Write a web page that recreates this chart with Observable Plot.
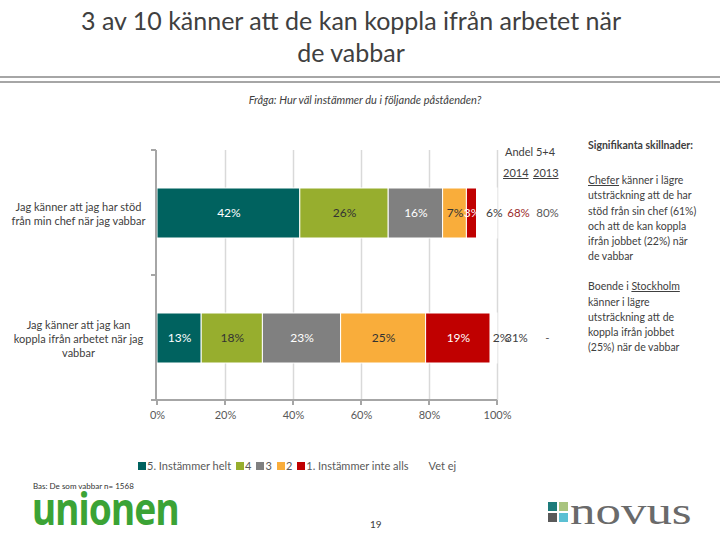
<!DOCTYPE html>
<html>
<head>
<meta charset="utf-8">
<script src="https://cdn.jsdelivr.net/npm/d3@7"></script>
<script src="https://cdn.jsdelivr.net/npm/@observablehq/plot@0.6"></script>
<style>
  html, body { margin: 0; padding: 0; background: #fff; }
  #page { position: relative; width: 720px; height: 540px; overflow: hidden; font-family: Lato, "Open Sans", sans-serif; color: #404040; }
  #chart { position: absolute; left: 0; top: 0; }
  .abs { position: absolute; }
  #title { left: 0; top: 4px; width: 702px; text-align: center; font-size: 25px; line-height: 32px; color: #404040; }
  .rule { left: 0; width: 720px; height: 2px; background: #a6a6a6; }
  #subtitle { left: 0; width: 730px; top: 93px; text-align: center; font-size: 11px; font-style: italic; color: #404040; }
  #andel { left: 490px; width: 80px; top: 145px; text-align: center; font-size: 11px; color: #404040; }
  .yr { top: 166px; font-size: 11px; text-decoration: underline; color: #404040; }
  #notes { left: 588px; top: 138px; width: 128px; font-size: 10.5px; line-height: 15.2px; color: #404040; }
  #notes u { text-decoration: underline; }
  #legend { left: 138px; top: 459px; font-size: 11px; color: #595959; display: flex; gap: 5px; align-items: center; white-space: nowrap; }
  #legend span.sw { display: inline-block; width: 8px; height: 8px; margin-right: 1px; vertical-align: middle; }
  #legend .item { display: inline-flex; align-items: center; }
  #bas { left: 33px; top: 481px; font-size: 8px; line-height: 10px; color: #333; }
  #unionen { left: 32px; top: 497px; height: 24px; line-height: 24px; font-family: "Noto Sans", sans-serif; font-weight: 700; font-size: 34px; color: #3ba335; transform-origin: 0 16px; transform: scale(1.09, 1.3); letter-spacing: -0.8px; white-space: nowrap; }
  #page-no { left: 370px; top: 518px; font-size: 10px; color: #404040; }
  #novus-sq { left: 548px; top: 502px; width: 20px; height: 20px; }
  #novus-sq div { position: absolute; width: 9px; height: 9px; }
  #novus { left: 570px; top: 492px; font-family: "Liberation Serif", serif; font-size: 38px; color: #6a6a6a; transform-origin: left top; transform: scaleX(1.34); line-height: 1; white-space: nowrap; }
</style>
</head>
<body>
<div id="page">
  <div id="chart"></div>
  <div id="title" class="abs">3 av 10 känner att de kan koppla ifrån arbetet när<br>de vabbar</div>
  <div class="abs rule" style="top:76px"></div>
  <div class="abs rule" style="top:81px"></div>
  <div id="subtitle" class="abs">Fråga: Hur väl instämmer du i följande påståenden?</div>
  <div id="andel" class="abs">Andel 5+4</div>
  <div id="y2014" class="abs yr" style="left:503px">2014</div>
  <div id="y2013" class="abs yr" style="left:533px">2013</div>
  <div id="notes" class="abs">
    <div style="font-weight:700; margin-bottom:20px;">Signifikanta skillnader:</div>
    <div><u>Chefer</u> känner i lägre<br>utsträckning att de har<br>stöd från sin chef (61%)<br>och att de kan koppla<br>ifrån jobbet (22%) när<br>de vabbar</div>
    <div style="margin-top:15px;">Boende i <u>Stockholm</u><br>känner i lägre<br>utsträckning att de<br>koppla ifrån jobbet<br>(25%) när de vabbar</div>
  </div>
  <div id="legend" class="abs"></div>
  <div id="bas" class="abs">Bas: De som vabbar n= 1568</div>
  <div id="unionen" class="abs">unionen</div>
  <div id="page-no" class="abs">19</div>
  <div id="novus-sq" class="abs">
    <div style="left:0;top:0;background:#1d7b7b"></div>
    <div style="left:11px;top:0;background:#a9c47f"></div>
    <div style="left:0;top:11px;background:#5a5a5a"></div>
    <div style="left:11px;top:11px;background:#5bc0d3"></div>
  </div>
  <div id="novus" class="abs">novus</div>
</div>
<script>
// ---- data ----
const categories = [
  "Jag känner att jag har stöd\nfrån min chef när jag vabbar",
  "Jag känner att jag kan\nkoppla ifrån arbetet när jag\nvabbar"
];
const responses = ["5. Instämmer helt", "4", "3", "2", "1. Instämmer inte alls", "Vet ej"];
const stodValues = [42, 26, 16, 7, 3, 6];
const kopplaValues = [13, 18, 23, 25, 19, 2];
const andel2014 = ["68%", "31%"];
const andel2013 = ["80%", "-"];
const significant2014 = [true, false];
const xTicks = [0, 20, 40, 60, 80, 100];

// ---- styling ----
const colors = ["#00625f", "#97ae2e", "#808080", "#f9ad3b", "#c00000", "#ffffff"];
const whiteLabel = new Set(["5. Instämmer helt", "3", "1. Instämmer inte alls"]);
const darkLabel = new Set(["4", "2"]);

const seriesValues = [stodValues, kopplaValues];
const data = categories.flatMap((c, i) => responses.map((r, j) => ({cat: c, resp: r, value: seriesValues[i][j]})));
const rows = categories.map((c, i) => ({cat: c, a14: andel2014[i], a13: andel2013[i], sig: significant2014[i]}));

const stackText = (pred, fill, dx = 0) => Plot.text(data, Plot.stackX({
  x: "value", y: "cat",
  text: d => pred(d) ? d.value + "%" : "",
  fill, dx, fontSize: 12
}));

const axisLines = (index, scales, values, dims) => {
  const g = d3.create("svg:g").attr("stroke", "#a6a6a6").attr("fill", "none");
  const x0 = dims.marginLeft - 1, top = dims.marginTop, bottom = dims.height - dims.marginBottom;
  const right = dims.width - dims.marginRight;
  g.append("line").attr("x1", x0).attr("x2", x0).attr("y1", top).attr("y2", bottom + 1).attr("stroke-width", 2);
  g.append("line").attr("x1", x0).attr("x2", right).attr("y1", bottom).attr("y2", bottom).attr("stroke-width", 2);
  for (const y of [top, (top + bottom) / 2, bottom]) {
    g.append("line").attr("x1", x0 - 5).attr("x2", x0).attr("y1", y).attr("y2", y).attr("stroke-width", 2);
  }
  for (const t of xTicks) {
    const x = scales.x(t);
    g.append("line").attr("x1", x).attr("x2", x).attr("y1", bottom).attr("y2", bottom + 5).attr("stroke-width", 2);
  }
  return g.node();
};

const chart = Plot.plot({
  width: 720,
  height: 540,
  marginLeft: 157,
  marginRight: 223,
  marginTop: 150,
  marginBottom: 140,
  x: {domain: [0, 100], ticks: xTicks, tickFormat: d => d + "%", tickSize: 0, tickPadding: 11, label: null},
  y: {domain: categories, axis: null, paddingInner: 0.6, paddingOuter: 0.3},
  color: {domain: responses, range: colors},
  style: {fontFamily: "Lato, 'Open Sans', sans-serif", fontSize: "11px", color: "#595959", background: "transparent"},
  marks: [
    Plot.ruleX(xTicks.slice(1), {stroke: "#d9d9d9", strokeWidth: 1.5}),
    Plot.barX(data, {x: "value", y: "cat", fill: "resp", stroke: "#ffffff", strokeWidth: 1}),
    stackText(d => whiteLabel.has(d.resp), "#ffffff"),
    stackText(d => darkLabel.has(d.resp), "#333333"),
    stackText(d => d.resp === "Vet ej", "#404040", 7),
    Plot.text(categories, {x: () => 0, y: d => d, text: d => d, dx: -79, textAnchor: "middle", fill: "#404040", fontSize: 11, lineHeight: 1.25}),
    Plot.text(rows, {x: () => 100, y: "cat", text: d => d.sig ? d.a14 : "", dx: 21, fill: "#9b2b2b", fontSize: 11.5}),
    Plot.text(rows, {x: () => 100, y: "cat", text: d => d.sig ? "" : d.a14, dx: 19, fill: "#404040", fontSize: 11.5}),
    Plot.text(rows, {x: () => 100, y: "cat", text: "a13", dx: 50, fill: "#595959", fontSize: 11.5}),
    axisLines
  ]
});
document.getElementById("chart").appendChild(chart);

// legend built from the same arrays
const legend = document.getElementById("legend");
responses.forEach((r, i) => {
  const item = document.createElement("span");
  item.className = "item";
  const sw = document.createElement("span");
  sw.className = "sw";
  sw.style.background = colors[i];
  item.appendChild(sw);
  item.appendChild(document.createTextNode(r));
  if (r === "Vet ej") item.style.marginLeft = "6px";
  legend.appendChild(item);
});
</script>
</body>
</html>
